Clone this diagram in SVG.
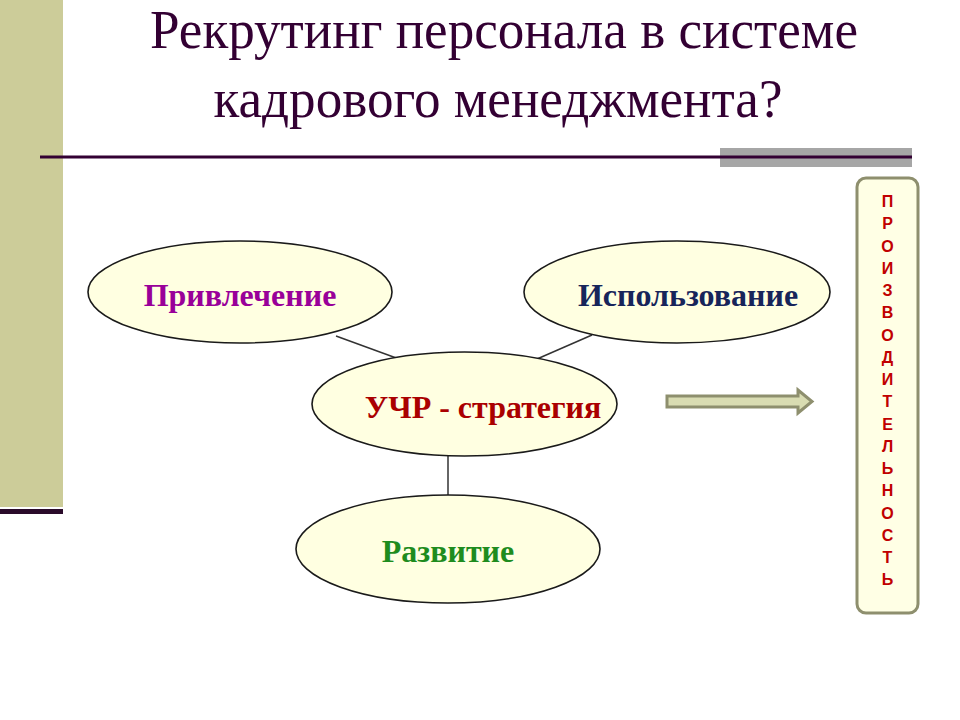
<svg xmlns="http://www.w3.org/2000/svg" width="960" height="720" viewBox="0 0 960 720">
<style>
.node ellipse{fill:#FFFFE1;stroke:#1a1a1a;stroke-width:1.6}
.lbl{font-family:"Liberation Serif","Times New Roman",serif;font-weight:bold;font-size:32px;text-anchor:middle}
.title{font-family:"Liberation Serif","Times New Roman",serif;font-size:54px;fill:#330033;text-anchor:middle}
#connectors line{stroke:#333;stroke-width:1.5}
.vert{font-family:"Liberation Sans",Arial,sans-serif;font-weight:bold;font-size:16px;fill:#C00000;text-anchor:middle}
</style>
<rect width="960" height="720" fill="#fff"/>
<rect x="0" y="0" width="63" height="507" fill="#CCCC99"/>
<rect x="0" y="509" width="63" height="5" fill="#2A0A2A"/>
<rect x="720" y="148" width="192" height="19" fill="#A6A6A6"/>
<rect x="40" y="155.5" width="872" height="3" fill="#330033"/>
<text class="title" x="504" y="48" textLength="708" lengthAdjust="spacingAndGlyphs">Рекрутинг персонала в системе</text>
<text class="title" x="498" y="117" textLength="569" lengthAdjust="spacingAndGlyphs">кадрового менеджмента?</text>
<g id="connectors">
<line x1="336" y1="336" x2="399" y2="359"/>
<line x1="592" y1="335" x2="537" y2="359"/>
<line x1="448" y1="455" x2="448" y2="495"/>
</g>
<g id="n-privlechenie" class="node">
<ellipse cx="240" cy="292" rx="152" ry="51"/>
<text class="lbl" x="240" y="306" fill="#990099">Привлечение</text>
</g>
<g id="n-ispolzovanie" class="node">
<ellipse cx="677" cy="292" rx="153" ry="51"/>
<text class="lbl" x="688" y="306" fill="#17255A">Использование</text>
</g>
<g id="n-uchr" class="node">
<ellipse cx="464.5" cy="404" rx="152.5" ry="52"/>
<text class="lbl" x="483" y="418" fill="#AA0000">УЧР - стратегия</text>
</g>
<g id="n-razvitie" class="node">
<ellipse cx="448" cy="549" rx="152" ry="54"/>
<text class="lbl" x="448" y="562" fill="#1E8C1E">Развитие</text>
</g>
<g id="arrow">
<path d="M667,396 H798 V390 L812,401.5 L798,413 V407 H667 Z" fill="#D9DCB2" stroke="#8E8F6E" stroke-width="3" stroke-linejoin="miter"/>
</g>
<g id="n-proizvoditelnost">
<rect x="857" y="178" width="61" height="435" rx="9" ry="9" fill="#FFFFE5" stroke="#8E8F6E" stroke-width="3"/>
<text class="vert" x="887.5" y="207"><tspan x="887.5">П</tspan><tspan x="887.5" dy="22.25">Р</tspan><tspan x="887.5" dy="22.25">О</tspan><tspan x="887.5" dy="22.25">И</tspan><tspan x="887.5" dy="22.25">З</tspan><tspan x="887.5" dy="22.25">В</tspan><tspan x="887.5" dy="22.25">О</tspan><tspan x="887.5" dy="22.25">Д</tspan><tspan x="887.5" dy="22.25">И</tspan><tspan x="887.5" dy="22.25">Т</tspan><tspan x="887.5" dy="22.25">Е</tspan><tspan x="887.5" dy="22.25">Л</tspan><tspan x="887.5" dy="22.25">Ь</tspan><tspan x="887.5" dy="22.25">Н</tspan><tspan x="887.5" dy="22.25">О</tspan><tspan x="887.5" dy="22.25">С</tspan><tspan x="887.5" dy="22.25">Т</tspan><tspan x="887.5" dy="22.25">Ь</tspan></text>
</g>
</svg>
